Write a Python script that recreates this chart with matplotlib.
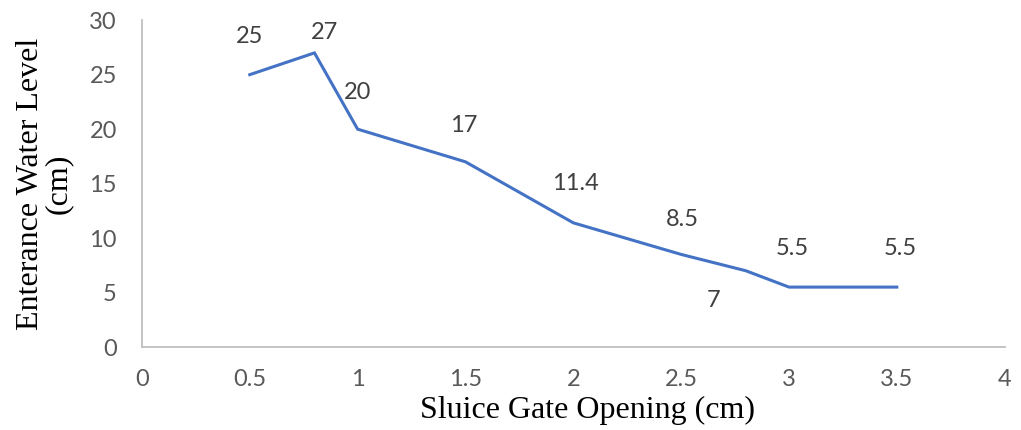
import matplotlib.pyplot as plt

gate_opening = [0.5, 0.8, 1.0, 1.5, 2.0, 2.5, 2.8, 3.0, 3.5]
water_level = [25, 27, 20, 17, 11.4, 8.5, 7, 5.5, 5.5]
point_labels = ['25', '27', '20', '17', '11.4', '8.5', '7', '5.5', '5.5']
# label offsets in pixels from each point (dx, dy)
label_offsets = [(0, 38), (10, 20), (0, 37), (-2, 36), (2, 39), (1, 35), (-32, -30), (3, 39), (3, 39)]

fig = plt.figure(figsize=(10.21, 4.30), dpi=100)
ax = fig.add_axes([0.139, 0.193, 0.845, 0.760])

ax.plot(gate_opening, water_level, color='#4472C4', linewidth=2.2, solid_joinstyle='miter')

for x, y, txt, (dx, dy) in zip(gate_opening, water_level, point_labels, label_offsets):
    ax.annotate(txt, (x, y), xytext=(dx, dy), textcoords='offset pixels',
                ha='center', va='center', fontsize=17, family='Lato', color='#404040')

ax.set_xlim(0, 4)
ax.set_ylim(0, 30)
ax.set_xticks([0, 0.5, 1, 1.5, 2, 2.5, 3, 3.5, 4])
ax.set_xticklabels(['0', '0.5', '1', '1.5', '2', '2.5', '3', '3.5', '4'])
ax.set_yticks([0, 5, 10, 15, 20, 25, 30])

for side in ['top', 'right']:
    ax.spines[side].set_visible(False)
for side in ['left', 'bottom']:
    ax.spines[side].set_color('#BFBFBF')
    ax.spines[side].set_linewidth(1.3)

ax.tick_params(length=0, labelsize=17, labelcolor='#595959')
ax.tick_params(axis='x', pad=16)
ax.tick_params(axis='y', pad=18)
for label in ax.get_xticklabels() + ax.get_yticklabels():
    label.set_family('Lato')

ax.set_xlabel('Sluice Gate Opening (cm)', family='Liberation Serif', fontsize=23)
ax.xaxis.set_label_coords(0.517, -0.15)
ax.set_ylabel('Enterance Water Level\n(cm)', family='Liberation Serif', fontsize=23,
              labelpad=12, linespacing=0.95)

fig.savefig('out.png', dpi=100)
